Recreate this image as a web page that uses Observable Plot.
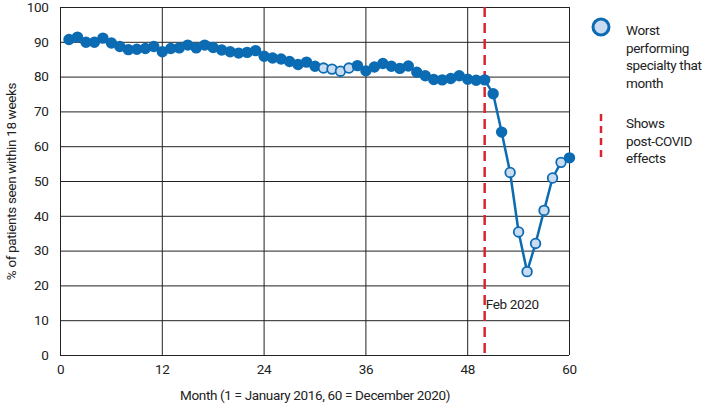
<!DOCTYPE html>
<html>
<head>
<meta charset="utf-8">
<script src="https://cdn.jsdelivr.net/npm/d3@7"></script>
<script src="https://cdn.jsdelivr.net/npm/@observablehq/plot@0.6"></script>
<style>
  html, body { margin: 0; padding: 0; background: #fff; }
  #chart svg { display: block; }
  #chart svg text { letter-spacing: -0.35px; }
</style>
</head>
<body>
<div id="chart"></div>
<script>
const months = [1,2,3,4,5,6,7,8,9,10,11,12,13,14,15,16,17,18,19,20,21,22,23,24,25,26,27,28,29,30,
                31,32,33,34,35,36,37,38,39,40,41,42,43,44,45,46,47,48,49,50,51,52,53,54,55,56,57,58,59,60];
const values = [90.8,91.5,90.0,90.0,91.2,89.8,88.8,87.9,88.0,88.2,88.8,87.3,88.2,88.4,89.2,88.4,89.2,88.5,87.8,87.3,
                86.9,87.1,87.6,86.0,85.5,85.2,84.5,83.6,84.3,83.1,82.6,82.3,81.7,82.6,83.3,81.8,82.9,83.9,83.1,82.5,
                83.2,81.4,80.4,79.3,79.2,79.6,80.4,79.4,79.1,79.2,75.2,64.2,52.6,35.5,24.1,32.2,41.7,51.0,55.5,56.8];
const worstMonths = [31,32,33,34,53,54,55,56,57,58,59];
const xTicks = [0,12,24,36,48,60];
const yTicks = [0,10,20,30,40,50,60,70,80,90,100];
const covidMonth = [50];
const covidLabel = ["Feb 2020"];
const covidLabelY = [14.6];
const legendItems = [["Worst","performing","specialty that","month"],["Shows","post-COVID","effects"]];

const data = months.map((m, i) => ({month: m, value: values[i], worst: worstMonths.includes(m)}));
const blue = "#0b6bb3";
const light = "#c9dcf1";
const red = "#d7262f";
const font = "Roboto,'Liberation Sans Narrow',sans-serif";

const chart = Plot.plot({
  width: 707,
  height: 404,
  marginLeft: 60,
  marginRight: 138,
  marginTop: 7,
  marginBottom: 49,
  style: {fontFamily: font, fontSize: "13.5px", color: "#222", background: "#fff"},
  x: {domain: [0, 60], ticks: xTicks, tickSize: 0, tickPadding: 9,
      label: "Month (1 = January 2016, 60 = December 2020)", labelAnchor: "center", labelArrow: "none", labelOffset: 44},
  y: {domain: [0, 100], ticks: yTicks, tickSize: 0, tickPadding: 12,
      label: "% of patients seen within 18 weeks", labelAnchor: "center", labelArrow: "none", labelOffset: 54},
  marks: [
    Plot.ruleX(xTicks, {stroke: "#222", strokeWidth: 1, strokeOpacity: 1}),
    Plot.ruleY(yTicks, {stroke: "#222", strokeWidth: 1, strokeOpacity: 1}),
    Plot.ruleX(covidMonth, {stroke: red, strokeWidth: 2.5, strokeDasharray: "10,6"}),
    Plot.text(covidLabel, {x: covidMonth, y: covidLabelY, textAnchor: "start", dx: 1, fill: "#222", fontSize: 13.5}),
    Plot.line(data, {x: "month", y: "value", stroke: blue, strokeWidth: 2.5}),
    Plot.dot(data, {x: "month", y: "value", r: 4.8, fill: d => d.worst ? light : blue, stroke: blue, strokeWidth: 1.8})
  ]
});

// Legend on the right
const svg = d3.select(chart);
const lg = svg.append("g").attr("font-family", font).attr("font-size", "13.5px").attr("fill", "#222").attr("text-anchor", "start");
lg.append("circle").attr("cx", 601).attr("cy", 27).attr("r", 8).attr("fill", light).attr("stroke", blue).attr("stroke-width", 3);
legendItems[0].forEach((t, i) => lg.append("text").attr("x", 626).attr("y", 35 + i * 17.5).text(t));
lg.append("line").attr("x1", 601).attr("x2", 601).attr("y1", 114).attr("y2", 162)
  .attr("stroke", red).attr("stroke-width", 2.5).attr("stroke-dasharray", "7,5");
legendItems[1].forEach((t, i) => lg.append("text").attr("x", 626).attr("y", 128 + i * 17.5).text(t));

document.getElementById("chart").appendChild(chart);
</script>
</body>
</html>
